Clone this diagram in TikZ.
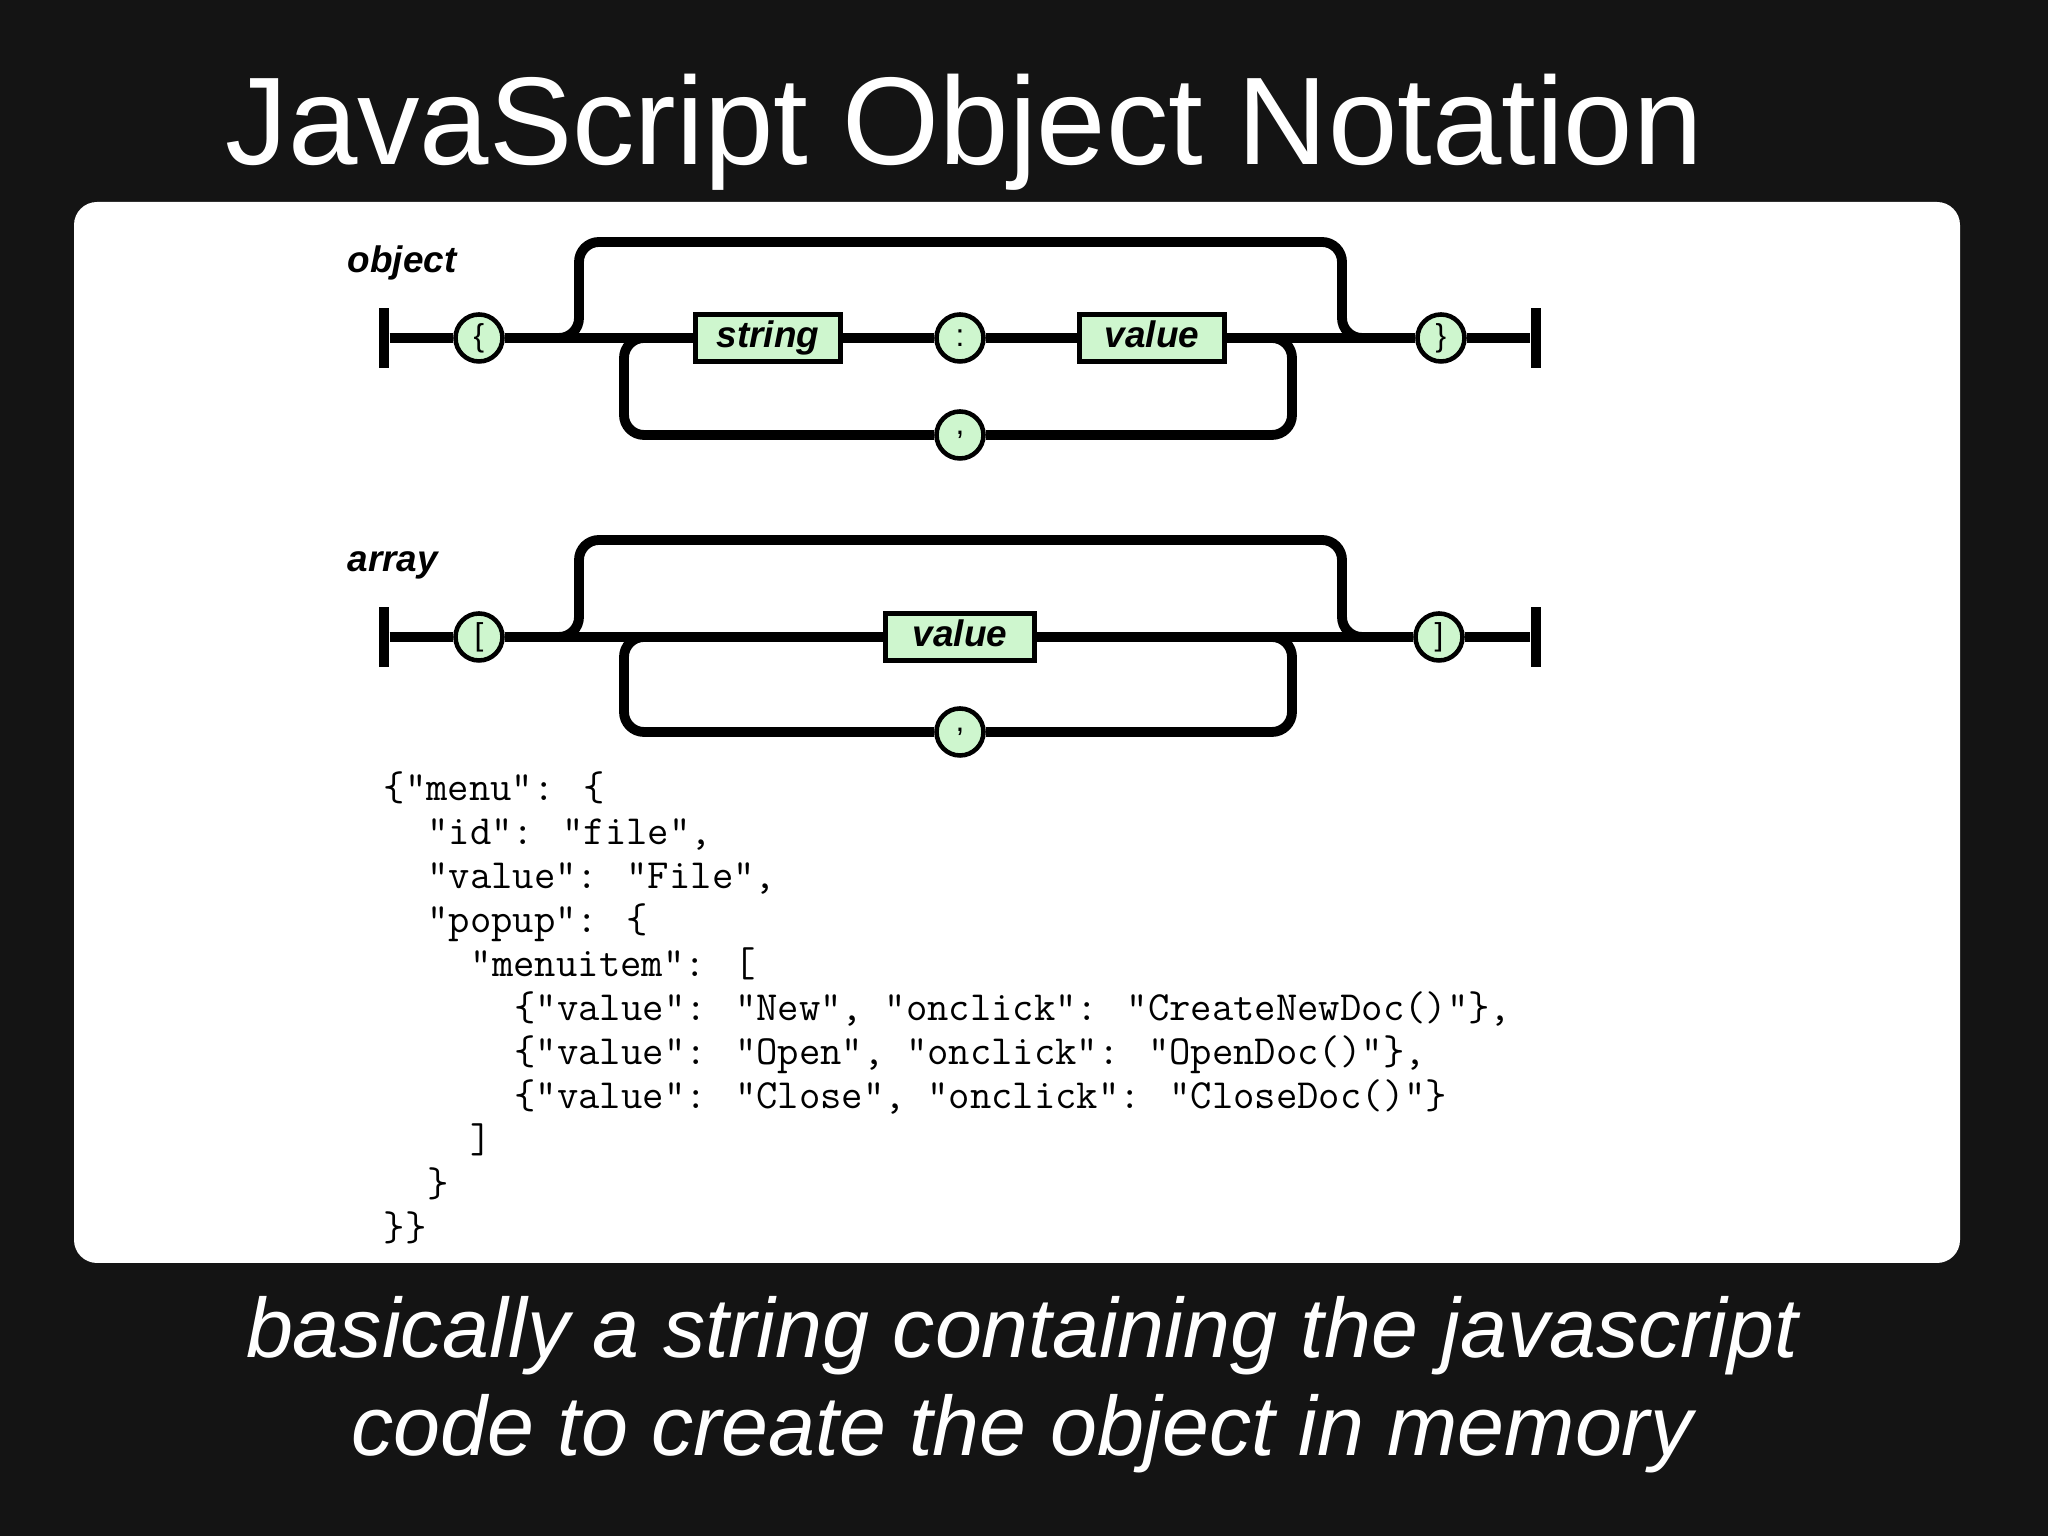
\documentclass[tikz,border=0pt]{standalone}
\usepackage{fontspec}
\setmainfont{Liberation Sans}
\usepackage{xcolor}
\usetikzlibrary{positioning}
\definecolor{slidebg}{RGB}{20,20,20}
\definecolor{railgreen}{RGB}{206,246,206}
\tikzset{
  rail/.style={line width=2.8pt, rounded corners=0.2cm},
  tok/.style={circle, draw, line width=1.3pt, fill=railgreen, minimum size=0.47cm, inner sep=0pt, font=\fontsize{9}{10}\selectfont},
  kind/.style={rectangle, draw, line width=1.4pt, fill=railgreen, minimum width=1.45cm, minimum height=0.47cm, inner sep=0pt, text height=1.55ex, text depth=0.5ex, font=\fontsize{10.5}{12}\selectfont\bfseries\itshape},
  endbar/.style={rectangle, fill=black, minimum width=0.1cm, minimum height=0.6cm, inner sep=0pt},
  diaglbl/.style={anchor=base west, inner sep=0pt, font=\fontsize{10.5}{12}\selectfont\bfseries\itshape},
  codeln/.style={anchor=base west, inner sep=0pt, font=\fontsize{11.8}{12.5}\selectfont\ttfamily},
  slidetxt/.style={text=white, inner sep=0pt}
}
\begin{document}
\begin{tikzpicture}
  \useasboundingbox (0,0) rectangle (20.48,15.36);
  % slide background and panel
  \fill[slidebg] (0,0) rectangle (20.48,15.36);
  \fill[white, rounded corners=0.23cm] (0.74,2.73) rectangle (19.60,13.34);
  \node[slidetxt, anchor=base west, font=\fontsize{35.5}{40}\selectfont] (title) at (2.25,13.71) {JavaScript Object Notation};

  % object
  \node[diaglbl] (objlbl) at (3.47,12.63) {object};
  \node[endbar] (obarL) at (3.84,11.98) {};
  \node[tok] (lbrace) at (4.79,11.98) {\{};
  \node[kind] (string) at (7.68,11.98) {string};
  \node[tok] (colon) at (9.60,11.98) {:};
  \node[kind] (ovalue) at (11.52,11.98) {value};
  \node[tok] (rbrace) at (14.41,11.98) {\}};
  \node[endbar] (obarR) at (15.36,11.98) {};
  \node[tok] (ocomma) at (9.60,11.01) {,};
  \coordinate (otl) at (5.79,12.94);
  \coordinate (otr) at (13.42,12.94);
  \coordinate (obl) at (6.24,11.01);
  \coordinate (obr) at (12.92,11.01);
  \draw[rail] (obarL) -- (lbrace) -- (string) -- (colon) -- (ovalue) -- (rbrace) -- (obarR);
  \draw[rail] (lbrace) -| (otl) -- (otr) |- (rbrace);
  \draw[rail] (ovalue) -| (obr) -- (ocomma);
  \draw[rail] (ocomma) -- (obl) |- (string);

  % array
  \node[diaglbl] (arrlbl) at (3.47,9.64) {array};
  \node[endbar] (abarL) at (3.84,8.99) {};
  \node[tok] (lbrack) at (4.79,8.99) {[};
  \node[kind, minimum width=1.49cm] (avalue) at (9.60,8.99) {value};
  \node[tok] (rbrack) at (14.39,8.99) {]};
  \node[endbar] (abarR) at (15.36,8.99) {};
  \node[tok] (acomma) at (9.60,8.04) {,};
  \coordinate (atl) at (5.79,9.96);
  \coordinate (atr) at (13.42,9.96);
  \coordinate (abl) at (6.24,8.04);
  \coordinate (abr) at (12.92,8.04);
  \draw[rail] (abarL) -- (lbrack) -- (avalue) -- (rbrack) -- (abarR);
  \draw[rail] (lbrack) -| (atl) -- (atr) |- (rbrack);
  \draw[rail] (avalue) -| (abr) -- (acomma);
  \draw[rail] (acomma) -- (abl) |- (avalue);

  % sample json
  \foreach \ind/\txt [count=\i] in {
      0/{\{"menu": \{},
      2/{"id": "file",},
      2/{"value": "File",},
      2/{"popup": \{},
      4/{"menuitem": [},
      6/{\{"value": "New", "onclick": "CreateNewDoc()"\},},
      6/{\{"value": "Open", "onclick": "OpenDoc()"\},},
      6/{\{"value": "Close", "onclick": "CloseDoc()"\}},
      4/{]},
      2/{\}},
      0/{\}\}}}
    \node[codeln] (code\i) at ({3.83+\ind*0.218},{7.35-(\i-1)*0.44}) {\txt};

  % caption
  \node[slidetxt, anchor=base, font=\fontsize{24}{28}\selectfont\itshape] (note1) at (10.22,1.78) {basically a string containing the javascript};
  \node[slidetxt, anchor=base, font=\fontsize{24}{28}\selectfont\itshape] (note2) at (10.22,0.80) {code to create the object in memory};
\end{tikzpicture}
\end{document}
